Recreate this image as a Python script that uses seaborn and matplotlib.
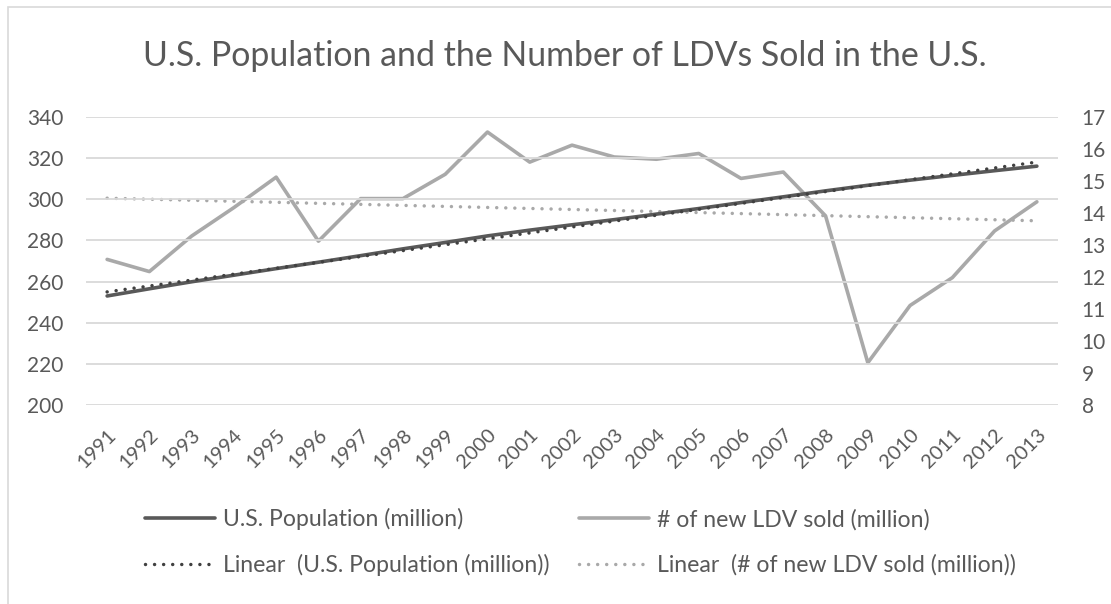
import numpy as np
import pandas as pd
import matplotlib
matplotlib.use("Agg")
import matplotlib.pyplot as plt
from matplotlib.patches import Rectangle
from matplotlib.lines import Line2D
import seaborn as sns

# data
years = list(range(1991, 2014))
population = [253.0, 256.5, 259.9, 263.1, 266.3, 269.4, 272.6, 275.9, 279.0, 282.2,
              285.0, 287.6, 290.1, 292.8, 295.5, 298.4, 301.2, 304.1, 306.8, 309.3,
              311.6, 313.9, 316.1]
ldv_sold = [12.55, 12.17, 13.28, 14.17, 15.12, 13.12, 14.45, 14.45, 15.21, 16.53,
            15.59, 16.12, 15.75, 15.68, 15.86, 15.08, 15.28, 13.91, 9.32, 11.11,
            11.98, 13.44, 14.35]
left_ticks = [200, 220, 240, 260, 280, 300, 320, 340]
right_ticks = [8, 9, 10, 11, 12, 13, 14, 15, 16, 17]

df = pd.DataFrame({"year": years, "pop": population, "ldv": ldv_sold})

sns.set_theme(style="white")
plt.rcParams["font.family"] = ["Lato", "DejaVu Sans"]

TXT = "#595959"
POP_C = "#595959"
LDV_C = "#a9a9a9"
GRID = "#d9d9d9"

fig = plt.figure(figsize=(11.11, 6.04), dpi=100)
ax = fig.add_axes([86 / 1111, 1 - 405 / 604, (1058 - 86) / 1111, (405 - 117) / 604])
ax2 = ax.twinx()

# gridlines (left axis)
for v in left_ticks:
    ax.axhline(v, color=GRID, lw=1.3, zorder=0)

dot = dict(ls=(0, (0.01, 2.6)), dash_capstyle="round", lw=2.5)

# U.S. population + linear trend
sns.lineplot(data=df, x="year", y="pop", ax=ax, color=POP_C, lw=2.6, zorder=4,
             legend=False)
sns.regplot(data=df, x="year", y="pop", ax=ax, scatter=False, ci=None,
            line_kws=dict(color="#404040", zorder=5, **dot))

# LDV sales + linear trend (right axis)
sns.lineplot(data=df, x="year", y="ldv", ax=ax2, color=LDV_C, lw=2.6, zorder=2,
             legend=False)
sns.regplot(data=df, x="year", y="ldv", ax=ax2, scatter=False, ci=None,
            line_kws=dict(color=LDV_C, zorder=3, **dot))

ax.set_xlim(1990.5, 2013.5)
ax.set_ylim(200, 340)
ax2.set_ylim(8, 17)
ax.set_xticks(years)
ax.set_xticklabels([str(y) for y in years], rotation=45, ha="right",
                   rotation_mode="anchor")
ax.set_yticks(left_ticks)
ax2.set_yticks(right_ticks)
ax.set_xlabel("")
ax.set_ylabel("")
ax2.set_ylabel("")
ax.tick_params(axis="x", length=0, pad=15, labelsize=14.5, colors=TXT)
ax.tick_params(axis="y", length=0, pad=16.5, labelsize=15, colors=TXT)
ax2.tick_params(axis="y", length=0, pad=17, labelsize=15, colors=TXT)
for a in (ax, ax2):
    for s in a.spines.values():
        s.set_visible(False)
    a.grid(False)
ax.set_zorder(ax2.get_zorder() + 1)
ax.patch.set_visible(False)

fig.text(565 / 1111, 1 - 56 / 604,
         "U.S. Population and the Number of LDVs Sold in the U.S.",
         ha="center", va="center", fontsize=24.4, color=TXT)

# legend
handles = [
    Line2D([], [], color=POP_C, lw=2.6),
    Line2D([], [], color="#404040", **dot),
    Line2D([], [], color=LDV_C, lw=2.6),
    Line2D([], [], color=LDV_C, **dot),
]
labels = [
    "U.S. Population (million)",
    "Linear  (U.S. Population (million))",
    "# of new LDV sold (million)",
    "Linear  (# of new LDV sold (million))",
]
leg = fig.legend(handles, labels, ncol=2, loc="upper left",
                 bbox_to_anchor=(145 / 1111, 1 - 508 / 604), frameon=False,
                 fontsize=16.6, handlelength=3.05, handletextpad=0.35,
                 columnspacing=1.25, labelspacing=1.05, borderpad=0,
                 borderaxespad=0)
for t in leg.get_texts():
    t.set_color(TXT)

fig.patches.append(Rectangle((8 / 1111, -0.1), 1.2, 1.1 - 7 / 604,
                             transform=fig.transFigure, fill=False,
                             edgecolor=GRID, lw=1.2))

fig.savefig("out.png", dpi=100)
